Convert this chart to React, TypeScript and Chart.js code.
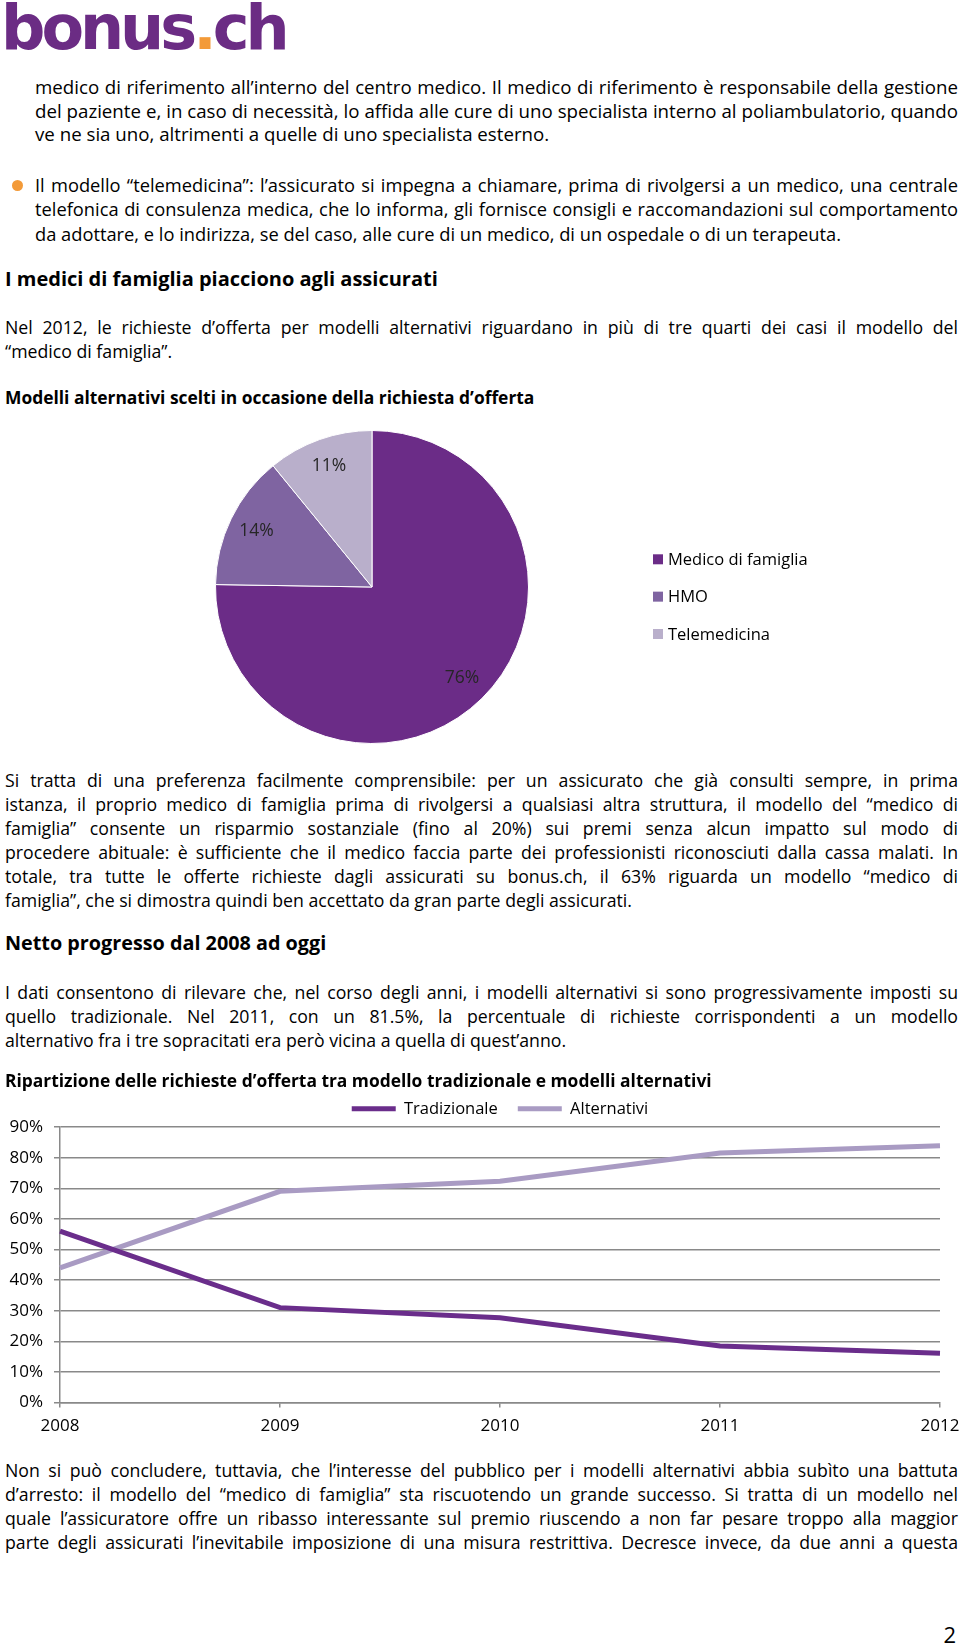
import React, { useEffect, useRef } from "react";
import { Chart, registerables } from "chart.js";

Chart.register(...registerables);

// ---------- chart data ----------
const pieLabels = ["Medico di famiglia", "HMO", "Telemedicina"];
const pieValues = [76, 14, 11];
const pieColors = ["#6b2c87", "#7f64a1", "#b9afcb"];

const years = ["2008", "2009", "2010", "2011", "2012"];
const tradizionale = [56, 31, 27.7, 18.5, 16.1];
const alternativi = [44, 69, 72.3, 81.5, 83.9];
const seriesNames = ["Tradizionale", "Alternativi"];
const seriesColors = ["#6a2d8b", "#a99bc3"];
const yMax = 90;
const yStep = 10;
const lineTitle =
  "Ripartizione delle richieste d’offerta tra modello tradizionale e modelli alternativi";

const FONT = "'Open Sans', 'Noto Sans', 'DejaVu Sans', sans-serif";
const GRID = "#898989";

type L = { t: string; j?: boolean };

function TextBlock(props: { x: number; top: number; width: number; lines: L[]; bold?: boolean; lh?: number; fs?: number }) {
  const lh = props.lh ?? 24.1;
  return (
    <div
      style={{
        position: "absolute",
        left: props.x,
        top: props.top,
        width: props.width,
        fontWeight: props.bold ? 700 : 400,
        fontSize: props.fs ?? 17.7,
      }}
    >
      {props.lines.map((l, i) => (
        <div
          key={i}
          style={{
            height: lh,
            lineHeight: `${lh}px`,
            textAlign: l.j ? "justify" : "left",
            textAlignLast: l.j ? "justify" : "left",
          } as React.CSSProperties}
        >
          {l.t}
        </div>
      ))}
    </div>
  );
}

const pieExtras = {
  id: "pieExtras",
  afterDatasetsDraw(chart: any) {
    const ctx = chart.ctx;
    const meta = chart.getDatasetMeta(0);
    const ds = chart.data.datasets[0];
    ctx.save();
    ctx.font = `17.5px ${FONT}`;
    ctx.textBaseline = "middle";
    ctx.textAlign = "center";
    ctx.fillStyle = "#262626";
    meta.data.forEach((arc: any, i: number) => {
      const p = arc.getProps(["x", "y", "startAngle", "endAngle", "outerRadius"], true);
      const mid = (p.startAngle + p.endAngle) / 2;
      const r = p.outerRadius * 0.82;
      ctx.fillText(`${ds.data[i]}%`, p.x + Math.cos(mid) * r, p.y + Math.sin(mid) * r);
    });
    const c = meta.data[0].getProps(["x", "y"], true);
    const lx = c.x + 281;
    ctx.font = `16.5px ${FONT}`;
    ctx.textAlign = "left";
    (chart.data.labels as string[]).forEach((lab, i) => {
      const y = c.y - 27.7 + i * 37.35;
      ctx.fillStyle = ds.backgroundColor[i];
      ctx.fillRect(lx, y - 5, 10, 10);
      ctx.fillStyle = "#000";
      ctx.fillText(lab, lx + 15, y + 1);
    });
    ctx.restore();
  },
};

function PieChart() {
  const ref = useRef<HTMLCanvasElement>(null);
  useEffect(() => {
    const chart = new Chart(ref.current as HTMLCanvasElement, {
      type: "pie",
      data: {
        labels: pieLabels,
        datasets: [{ data: pieValues, backgroundColor: pieColors, borderColor: "#ffffff", borderWidth: 1 }],
      },
      options: {
        animation: false,
        responsive: false,
        layout: { padding: { left: 0, right: 216, top: 4, bottom: 2 } },
        plugins: { legend: { display: false }, tooltip: { enabled: false } },
      },
      plugins: [pieExtras],
    } as any);
    return () => chart.destroy();
  }, []);
  return <canvas ref={ref} width={960} height={320} style={{ position: "absolute", left: 0, top: 426 }} />;
}

function LineChart() {
  const ref = useRef<HTMLCanvasElement>(null);
  useEffect(() => {
    const tickFont = { family: FONT, size: 17 };
    const chart = new Chart(ref.current as HTMLCanvasElement, {
      type: "line",
      data: {
        labels: years,
        datasets: [
          { label: seriesNames[0], data: tradizionale, borderColor: seriesColors[0], backgroundColor: seriesColors[0], borderWidth: 5, pointRadius: 0, tension: 0, fill: false },
          { label: seriesNames[1], data: alternativi, borderColor: seriesColors[1], backgroundColor: seriesColors[1], borderWidth: 5, pointRadius: 0, tension: 0, fill: false },
        ],
      },
      options: {
        animation: false,
        responsive: false,
        layout: { padding: { left: 5, right: 20, top: 0, bottom: 0 } },
        plugins: {
          title: {
            display: true,
            text: lineTitle,
            align: "start",
            color: "#000",
            font: { family: FONT, size: 17.4, weight: "bold", lineHeight: 1.2 },
            padding: { top: 9.6, bottom: -11.9 },
          },
          legend: {
            display: true,
            position: "top",
            fullSize: false,
            labels: {
              usePointStyle: true,
              pointStyle: "line",
              pointStyleWidth: 44,
              padding: 20,
              color: "#000",
              font: { family: FONT, size: 16.5 },
            },
          },
          tooltip: { enabled: false },
        },
        scales: {
          x: {
            type: "category",
            offset: false,
            grid: { display: true, drawOnChartArea: false, drawTicks: true, tickLength: 5, color: GRID, lineWidth: 1.5 },
            border: { display: true, color: GRID, width: 1.5 },
            ticks: { color: "#000", font: tickFont, padding: 8, maxRotation: 0, autoSkip: false },
            afterFit: (s: any) => {
              s.height = 47.5;
              s.paddingLeft = 0;
              s.paddingRight = 0;
            },
          },
          y: {
            min: 0,
            max: yMax,
            ticks: { stepSize: yStep, color: "#000", font: tickFont, padding: 11, callback: (v: any) => `${v}%` },
            grid: { color: GRID, lineWidth: 1.5, tickLength: 6, drawTicks: true },
            border: { display: true, color: GRID, width: 1.5 },
            afterFit: (s: any) => { s.width = 55; },
          },
        },
      },
    } as any);
    return () => chart.destroy();
  }, []);
  return <canvas ref={ref} width={960} height={388} style={{ position: "absolute", left: 0, top: 1062 }} />;
}

export default function App() {
  return (
    <div
      style={{
        position: "relative",
        width: 960,
        height: 1645,
        overflow: "hidden",
        background: "#fff",
        color: "#000",
        fontFamily: FONT,
        fontSize: 17.7,
      }}
    >
      <style>{"body{margin:0;background:#fff;}"}</style>
      <div
        style={{
          position: "absolute",
          left: 1,
          top: -3,
          fontFamily: "'DejaVu Sans', sans-serif",
          fontWeight: 700,
          fontSize: 62,
          lineHeight: "62px",
          letterSpacing: -4,
          color: "#6b2c84",
          whiteSpace: "nowrap",
        }}
      >
        bonus<span style={{ color: "#f39a38" }}>.</span>ch
      </div>

      <TextBlock
        x={35}
        top={75}
        width={923}
        lh={23.6}
        fs={18.7}
        lines={[
          { t: "medico di riferimento all’interno del centro medico. Il medico di riferimento è responsabile della gestione", j: true },
          { t: "del paziente e, in caso di necessità, lo affida alle cure di uno specialista interno al poliambulatorio, quando", j: true },
          { t: "ve ne sia uno, altrimenti a quelle di uno specialista esterno." },
        ]}
      />

      <div style={{ position: "absolute", left: 12, top: 180, width: 11, height: 11, borderRadius: "50%", background: "#f39a38" }} />
      <TextBlock
        x={35}
        top={173}
        width={923}
        lh={24.4}
        fs={18.3}
        lines={[
          { t: "Il modello “telemedicina”: l’assicurato si impegna a chiamare, prima di rivolgersi a un medico, una centrale", j: true },
          { t: "telefonica di consulenza medica, che lo informa, gli fornisce consigli e raccomandazioni sul comportamento", j: true },
          { t: "da adottare, e lo indirizza, se del caso, alle cure di un medico, di un ospedale o di un terapeuta." },
        ]}
      />

      <TextBlock x={5} top={267} width={953} bold fs={20} lines={[{ t: "I medici di famiglia piacciono agli assicurati" }]} />

      <TextBlock
        x={5}
        top={315}
        width={953}
        lines={[
          { t: "Nel 2012, le richieste d’offerta per modelli alternativi riguardano in più di tre quarti dei casi il modello del", j: true },
          { t: "“medico di famiglia”." },
        ]}
      />

      <TextBlock x={5} top={385} width={953} bold fs={17.4} lines={[{ t: "Modelli alternativi scelti in occasione della richiesta d’offerta" }]} />

      <PieChart />

      <TextBlock
        x={5}
        top={768}
        width={953}
        lines={[
          { t: "Si tratta di una preferenza facilmente comprensibile: per un assicurato che già consulti sempre, in prima", j: true },
          { t: "istanza, il proprio medico di famiglia prima di rivolgersi a qualsiasi altra struttura, il modello del “medico di", j: true },
          { t: "famiglia” consente un risparmio sostanziale (fino al 20%) sui premi senza alcun impatto sul modo di", j: true },
          { t: "procedere abituale: è sufficiente che il medico faccia parte dei professionisti riconosciuti dalla cassa malati. In", j: true },
          { t: "totale, tra tutte le offerte richieste dagli assicurati su bonus.ch, il 63% riguarda un modello “medico di", j: true },
          { t: "famiglia”, che si dimostra quindi ben accettato da gran parte degli assicurati." },
        ]}
      />

      <TextBlock x={5} top={931} width={953} bold fs={19.8} lines={[{ t: "Netto progresso dal 2008 ad oggi" }]} />

      <TextBlock
        x={5}
        top={980}
        width={953}
        lines={[
          { t: "I dati consentono di rilevare che, nel corso degli anni, i modelli alternativi si sono progressivamente imposti su", j: true },
          { t: "quello tradizionale. Nel 2011, con un 81.5%, la percentuale di richieste corrispondenti a un modello", j: true },
          { t: "alternativo fra i tre sopracitati era però vicina a quella di quest’anno." },
        ]}
      />

      <LineChart />

      <TextBlock
        x={5}
        top={1458}
        width={953}
        lines={[
          { t: "Non si può concludere, tuttavia, che l’interesse del pubblico per i modelli alternativi abbia subìto una battuta", j: true },
          { t: "d’arresto: il modello del “medico di famiglia” sta riscuotendo un grande successo. Si tratta di un modello nel", j: true },
          { t: "quale l’assicuratore offre un ribasso interessante sul premio riuscendo a non far pesare troppo alla maggior", j: true },
          { t: "parte degli assicurati l’inevitabile imposizione di una misura restrittiva. Decresce invece, da due anni a questa", j: true },
        ]}
      />

      <div style={{ position: "absolute", right: 4, top: 1619, fontSize: 22, lineHeight: "30px" }}>2</div>
    </div>
  );
}
